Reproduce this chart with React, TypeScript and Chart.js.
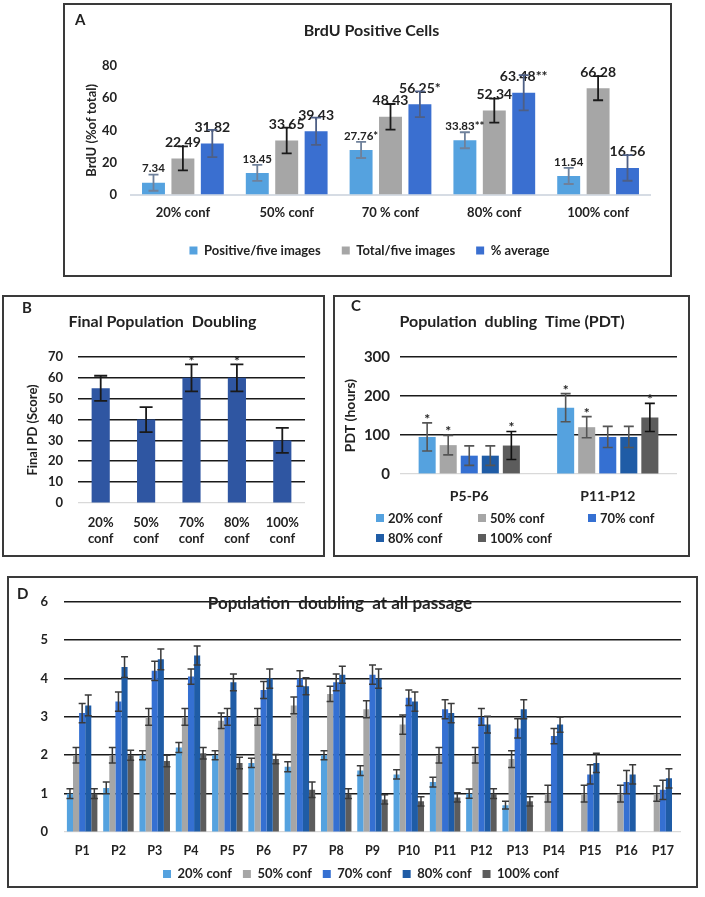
import React, { useEffect, useRef } from 'react';
import { Chart, registerables } from 'chart.js';

Chart.register(...registerables);

const FONT = 'Lato, "Open Sans", "DejaVu Sans", sans-serif';
const TEXT = '#222222';
Chart.defaults.font.family = FONT;
Chart.defaults.color = TEXT;

// ---------------- Panel A : BrdU positive cells ----------------
const brduCategories = ['20% conf', '50% conf', '70 % conf', '80% conf', '100% conf'];
const brduSeriesNames = ['Positive/five images', 'Total/five images', '% average'];
const brduPositive = [7.34, 13.45, 27.76, 33.83, 11.54];
const brduTotal = [22.49, 33.65, 48.43, 52.34, 66.28];
const brduAverage = [31.82, 39.43, 56.25, 63.48, 16.56];
const brduPositiveErr = [5, 5, 5, 5, 5];
const brduTotalErr = [7.5, 8, 8, 7.5, 7.5];
const brduAverageErr = [8.5, 8.5, 8, 11, 8];
const brduPositiveText = ['7.34', '13.45', '27.76*', '33.83**', '11.54'];
const brduTotalText = ['22.49', '33.65', '48.43', '52.34', '66.28'];
const brduAverageText = ['31.82', '39.43', '56.25*', '63.48**', '16.56'];
const brduTicks = [0, 20, 40, 60, 80];

// ---------------- Panel B : Final population doubling ----------------
const pdCategories = [['20%', 'conf'], ['50%', 'conf'], ['70%', 'conf'], ['80%', 'conf'], ['100%', 'conf']];
const pdValues = [55, 40, 60, 60, 30];
const pdErrors = [6, 6, 6.5, 6.5, 6];
const pdStars = ['', '', '*', '*', ''];
const pdTicks = [0, 10, 20, 30, 40, 50, 60, 70];

// ---------------- Panel C : Population doubling time ----------------
const confNames = ['20% conf', '50% conf', '70% conf', '80% conf', '100% conf'];
const pdtCategories = ['P5-P6', 'P11-P12'];
const pdt20 = [95, 170];
const pdt50 = [74, 120];
const pdt70 = [47, 95];
const pdt80 = [47, 95];
const pdt100 = [73, 145];
const pdt20Err = [36, 36];
const pdt50Err = [25, 27];
const pdt70Err = [25, 27];
const pdt80Err = [25, 27];
const pdt100Err = [36, 36];
const pdt20Stars = ['*', '*'];
const pdt50Stars = ['*', '*'];
const pdt70Stars = ['', ''];
const pdt80Stars = ['', ''];
const pdt100Stars = ['*', '*'];
const pdtTicks = [0, 100, 200, 300];

// ---------------- Panel D : Population doubling at all passage ----------------
const passages = ['P1', 'P2', 'P3', 'P4', 'P5', 'P6', 'P7', 'P8', 'P9', 'P10', 'P11', 'P12', 'P13', 'P14', 'P15', 'P16', 'P17'];
const pd20 = [1.0, 1.15, 2.0, 2.2, 2.0, 1.8, 1.7, 2.0, 1.6, 1.5, 1.3, 1.0, 0.7, null, null, null, null];
const pd50 = [2.0, 2.0, 3.0, 3.0, 2.9, 3.0, 3.3, 3.6, 3.2, 2.8, 2.0, 2.0, 1.9, 1.0, 1.0, 1.0, 1.0];
const pd70 = [3.1, 3.4, 4.2, 4.05, 3.0, 3.7, 4.0, 3.9, 4.1, 3.5, 3.2, 3.0, 2.7, 2.5, 1.5, 1.3, 1.1];
const pd80 = [3.3, 4.3, 4.5, 4.6, 3.9, 4.0, 3.8, 4.1, 4.0, 3.4, 3.1, 2.8, 3.2, 2.8, 1.8, 1.5, 1.4];
const pd100 = [1.0, 2.0, 1.85, 2.05, 1.8, 1.9, 1.1, 1.0, 0.85, 0.8, 0.9, 1.0, 0.8, null, null, null, null];
const pd20Err = [0.13, 0.15, 0.12, 0.13, 0.12, 0.12, 0.13, 0.12, 0.13, 0.12, 0.13, 0.12, 0.1, null, null, null, null];
const pd50Err = [0.2, 0.2, 0.22, 0.22, 0.2, 0.22, 0.22, 0.2, 0.22, 0.25, 0.2, 0.2, 0.22, 0.22, 0.22, 0.22, 0.2];
const pd70Err = [0.25, 0.25, 0.25, 0.2, 0.22, 0.22, 0.2, 0.22, 0.25, 0.2, 0.25, 0.22, 0.25, 0.2, 0.25, 0.3, 0.25];
const pd80Err = [0.27, 0.27, 0.27, 0.25, 0.22, 0.25, 0.22, 0.22, 0.25, 0.25, 0.25, 0.22, 0.25, 0.2, 0.25, 0.25, 0.25];
const pd100Err = [0.13, 0.13, 0.15, 0.15, 0.15, 0.12, 0.2, 0.13, 0.12, 0.12, 0.12, 0.13, 0.12, null, null, null, null];
const pdAllTicks = [0, 1, 2, 3, 4, 5, 6];

// ---------------- colours ----------------
const COL20 = '#55A2DF';
const COL50 = '#A6A6A6';
const COL70 = '#3570D2';
const COL80 = '#1F5CA6';
const COL100 = '#5C5C5C';
const COLB = '#2F56A2';

const annotatePlugin = {
  id: 'annotate',
  afterLayout(chart: any, _args: any, opts: any) {
    const dxT = (opts && opts.titleShift) || 0;
    const dxL = (opts && opts.legendShift) || 0;
    if (chart.titleBlock && dxT) {
      chart.titleBlock.left += dxT;
      chart.titleBlock.right += dxT;
    }
    if (chart.legend && dxL) {
      chart.legend.left += dxL;
      chart.legend.right += dxL;
    }
  },
  afterDatasetsDraw(chart: any, _args: any, opts: any) {
    const ctx = chart.ctx;
    const yScale = chart.scales.y;
    const cap = (opts && opts.capWidth) || 8;
    const lw = (opts && opts.lineWidth) || 1.5;
    // value labels first
    chart.data.datasets.forEach((ds: any, di: number) => {
      const meta = chart.getDatasetMeta(di);
      if (!ds.valueText) return;
      meta.data.forEach((bar: any, i: number) => {
        const v = ds.data[i];
        if (v == null || !ds.valueText[i]) return;
        ctx.save();
        ctx.font = `bold ${ds.valueFontSize || 13}px ${FONT}`;
        ctx.fillStyle = TEXT;
        ctx.textAlign = 'center';
        ctx.textBaseline = 'middle';
        ctx.fillText(ds.valueText[i], bar.x, yScale.getPixelForValue(v) - (ds.valueOffset || 15));
        ctx.restore();
      });
    });
    // error bars + stars
    chart.data.datasets.forEach((ds: any, di: number) => {
      const meta = chart.getDatasetMeta(di);
      if (!ds.errors) return;
      meta.data.forEach((bar: any, i: number) => {
        const v = ds.data[i];
        const e = ds.errors[i];
        if (v == null || e == null) return;
        const x = bar.x;
        const yT = yScale.getPixelForValue(v + e);
        const yB = yScale.getPixelForValue(Math.max(0, v - e));
        ctx.save();
        ctx.strokeStyle = ds.errorColor || '#222';
        ctx.lineWidth = lw;
        ctx.beginPath();
        ctx.moveTo(x, yT);
        ctx.lineTo(x, yB);
        ctx.moveTo(x - cap / 2, yT);
        ctx.lineTo(x + cap / 2, yT);
        ctx.moveTo(x - cap / 2, yB);
        ctx.lineTo(x + cap / 2, yB);
        ctx.stroke();
        if (ds.stars && ds.stars[i]) {
          ctx.font = `bold ${opts.starSize || 15}px ${FONT}`;
          ctx.fillStyle = TEXT;
          ctx.textAlign = 'center';
          ctx.textBaseline = 'alphabetic';
          ctx.fillText(ds.stars[i], x, yT + (opts.starOffset || 2));
        }
        ctx.restore();
      });
    });
  },
};

const boldFont = (size: number) => ({ family: FONT, size, weight: 'bold' as const });
const gridColor = (c: any) => (c.tick && c.tick.value === 0 ? '#d9d9d9' : '#1a1a1a');
const gridWidth = (c: any) => (c.tick && c.tick.value === 0 ? 1.2 : 1.6);
const fixedTicks = (list: number[]) => (s: any) => {
  s.ticks = list.map((v) => ({ value: v }));
};

function useChart(makeConfig: () => any) {
  const ref = useRef<HTMLCanvasElement | null>(null);
  useEffect(() => {
    if (!ref.current) return;
    const chart = new Chart(ref.current, makeConfig());
    return () => chart.destroy();
  }, []);
  return ref;
}

function configA() {
  return {
    type: 'bar',
    plugins: [annotatePlugin],
    data: {
      labels: brduCategories,
      datasets: [
        { label: brduSeriesNames[0], data: brduPositive, backgroundColor: COL20, errors: brduPositiveErr, errorColor: '#6f819b', valueText: brduPositiveText, valueFontSize: 11.5, valueOffset: 14 },
        { label: brduSeriesNames[1], data: brduTotal, backgroundColor: COL50, errors: brduTotalErr, errorColor: '#1a1a1a', valueText: brduTotalText, valueFontSize: 14, valueOffset: 16 },
        { label: brduSeriesNames[2], data: brduAverage, backgroundColor: '#3A6FD0', errors: brduAverageErr, errorColor: '#4e5f85', valueText: brduAverageText, valueFontSize: 14, valueOffset: 16 },
      ],
    },
    options: {
      responsive: false,
      animation: false,
      events: [],
      datasets: { bar: { categoryPercentage: 0.85, barPercentage: 0.78 } },
      layout: { padding: { left: 8, right: 20, top: 6, bottom: 8 } },
      plugins: {
        title: { display: true, text: 'BrdU Positive Cells', font: boldFont(16), color: TEXT, padding: { top: 10, bottom: 26 } },
        legend: { position: 'bottom', labels: { boxWidth: 8, boxHeight: 8, padding: 21, font: boldFont(13), color: TEXT } },
        tooltip: { enabled: false },
        annotate: { titleShift: 10, legendShift: 8, capWidth: 10, lineWidth: 1.8 },
      },
      scales: {
        x: {
          grid: { display: false, drawTicks: false },
          border: { display: true, color: '#d6dce4', width: 2 },
          ticks: { font: boldFont(13), color: TEXT, padding: 11 },
          afterFit: (s: any) => { s.height = 28.5; },
        },
        y: {
          min: 0,
          max: 80,
          afterBuildTicks: fixedTicks(brduTicks),
          grid: { display: false, drawTicks: false },
          border: { display: false },
          ticks: { font: boldFont(13), color: TEXT, padding: 14 },
          title: { display: true, text: 'BrdU (%of total)', font: boldFont(13), color: TEXT, padding: { top: 11, bottom: 0 } },
          afterFit: (s: any) => { s.width = 58; },
        },
      },
    },
  };
}

function configB() {
  return {
    type: 'bar',
    plugins: [annotatePlugin],
    data: {
      labels: pdCategories,
      datasets: [
        { label: 'Final PD', data: pdValues, backgroundColor: COLB, errors: pdErrors, errorColor: '#1a1a1a', stars: pdStars },
      ],
    },
    options: {
      responsive: false,
      animation: false,
      events: [],
      datasets: { bar: { categoryPercentage: 0.8, barPercentage: 0.5 } },
      layout: { padding: { left: 6, right: 18, top: 6, bottom: 8 } },
      plugins: {
        title: { display: true, text: 'Final Population  Doubling', font: boldFont(16), color: TEXT, padding: { top: 9.4, bottom: 25.4 } },
        legend: { display: false },
        tooltip: { enabled: false },
        annotate: { titleShift: 5, capWidth: 13, lineWidth: 1.8, starSize: 14, starOffset: 2 },
      },
      scales: {
        x: {
          grid: { display: false, drawTicks: false },
          border: { display: false },
          ticks: { font: boldFont(13), color: TEXT, padding: 12 },
          afterFit: (s: any) => { s.height = 44; },
        },
        y: {
          min: 0,
          max: 70,
          afterBuildTicks: fixedTicks(pdTicks),
          grid: { color: gridColor, lineWidth: gridWidth, drawTicks: false },
          border: { display: false },
          ticks: { font: boldFont(13), color: TEXT, padding: 15 },
          title: { display: true, text: 'Final PD (Score)', font: boldFont(13), color: TEXT, padding: { top: 15, bottom: 0 } },
          afterFit: (s: any) => { s.width = 68; },
        },
      },
    },
  };
}

function configC() {
  return {
    type: 'bar',
    plugins: [annotatePlugin],
    data: {
      labels: pdtCategories,
      datasets: [
        { label: confNames[0], data: pdt20, backgroundColor: COL20, errors: pdt20Err, errorColor: '#555', stars: pdt20Stars },
        { label: confNames[1], data: pdt50, backgroundColor: COL50, errors: pdt50Err, errorColor: '#555', stars: pdt50Stars },
        { label: confNames[2], data: pdt70, backgroundColor: COL70, errors: pdt70Err, errorColor: '#555', stars: pdt70Stars },
        { label: confNames[3], data: pdt80, backgroundColor: COL80, errors: pdt80Err, errorColor: '#555', stars: pdt80Stars },
        { label: confNames[4], data: pdt100, backgroundColor: COL100, errors: pdt100Err, errorColor: '#111', stars: pdt100Stars },
      ],
    },
    options: {
      responsive: false,
      animation: false,
      events: [],
      datasets: { bar: { categoryPercentage: 0.76, barPercentage: 0.81 } },
      layout: { padding: { left: 4, right: 11, top: 6, bottom: 46 } },
      plugins: {
        title: { display: true, text: 'Population  dubling  Time (PDT)', font: boldFont(16), color: TEXT, padding: { top: 9.4, bottom: 25.4 } },
        legend: { display: false },
        tooltip: { enabled: false },
        annotate: { titleShift: 4, capWidth: 10, lineWidth: 1.6, starSize: 14, starOffset: 1 },
      },
      scales: {
        x: {
          grid: { display: false, drawTicks: false },
          border: { display: false },
          ticks: { font: boldFont(14), color: TEXT, padding: 14.5 },
          afterFit: (s: any) => { s.height = 35; },
        },
        y: {
          min: 0,
          max: 300,
          afterBuildTicks: fixedTicks(pdtTicks),
          grid: { color: gridColor, lineWidth: gridWidth, drawTicks: false },
          border: { display: false },
          ticks: { font: boldFont(15), color: TEXT, padding: 10 },
          title: { display: true, text: 'PDT (hours)', font: boldFont(14), color: TEXT, padding: { top: 2.6, bottom: 0 } },
          afterFit: (s: any) => { s.width = 61; },
        },
      },
    },
  };
}

function configD() {
  return {
    type: 'bar',
    plugins: [annotatePlugin],
    data: {
      labels: passages,
      datasets: [
        { label: confNames[0], data: pd20, backgroundColor: COL20, errors: pd20Err, errorColor: '#3a3a3a' },
        { label: confNames[1], data: pd50, backgroundColor: COL50, errors: pd50Err, errorColor: '#3a3a3a' },
        { label: confNames[2], data: pd70, backgroundColor: COL70, errors: pd70Err, errorColor: '#3a3a3a' },
        { label: confNames[3], data: pd80, backgroundColor: COL80, errors: pd80Err, errorColor: '#3a3a3a' },
        { label: confNames[4], data: pd100, backgroundColor: COL100, errors: pd100Err, errorColor: '#3a3a3a' },
      ],
    },
    options: {
      responsive: false,
      animation: false,
      events: [],
      datasets: { bar: { categoryPercentage: 0.84, barPercentage: 1.0 } },
      layout: { padding: { left: 4, right: 15, top: 14, bottom: 0.5 } },
      plugins: {
        title: { display: false },
        legend: { position: 'bottom', labels: { boxWidth: 8, boxHeight: 8, padding: 11, font: boldFont(13), color: TEXT } },
        tooltip: { enabled: false },
        annotate: { legendShift: 14, capWidth: 7, lineWidth: 1.5 },
      },
      scales: {
        x: {
          grid: { display: false, drawTicks: false },
          border: { display: false },
          ticks: { font: boldFont(12.5), color: TEXT, padding: 11 },
          afterFit: (s: any) => { s.height = 24.5; },
        },
        y: {
          min: 0,
          max: 6,
          afterBuildTicks: fixedTicks(pdAllTicks),
          grid: { color: gridColor, lineWidth: gridWidth, drawTicks: false },
          border: { display: false },
          ticks: { font: boldFont(13), color: TEXT, padding: 16 },
          afterFit: (s: any) => { s.width = 51; },
        },
      },
    },
  };
}

const boxStyle = (left: number, top: number, width: number, height: number): React.CSSProperties => ({
  position: 'absolute',
  left,
  top,
  width,
  height,
  border: '2px solid #3a3a3a',
  boxSizing: 'border-box',
});

const canvasStyle = (w: number, h: number): React.CSSProperties => ({
  position: 'absolute',
  left: 0,
  top: 0,
  width: w,
  height: h,
});

const letterStyle = (left: number, top: number): React.CSSProperties => ({
  position: 'absolute',
  left,
  top,
  font: `bold 15px ${FONT}`,
  color: TEXT,
  lineHeight: '18px',
});

const legendColumnsC = [376, 478, 588];
const legendRowsC = [510, 530];
const legendColorsC = [COL20, COL50, COL70, COL80, COL100];

export default function App() {
  const refA = useChart(configA);
  const refB = useChart(configB);
  const refC = useChart(configC);
  const refD = useChart(configD);

  return (
    <div style={{ position: 'fixed', left: 0, top: 0, width: 705, height: 897, background: '#ffffff', fontFamily: FONT, overflow: 'hidden' }}>
      <div style={boxStyle(63, 3, 609, 274)}>
        <canvas ref={refA} width={605} height={270} style={canvasStyle(605, 270)} />
      </div>
      <div style={letterStyle(75, 10)}>A</div>

      <div style={boxStyle(2, 295, 323, 262)}>
        <canvas ref={refB} width={319} height={258} style={canvasStyle(319, 258)} />
      </div>
      <div style={letterStyle(22, 298)}>B</div>

      <div style={boxStyle(333, 295, 357, 262)}>
        <canvas ref={refC} width={353} height={258} style={canvasStyle(353, 258)} />
      </div>
      <div style={letterStyle(351, 296)}>C</div>
      {confNames.map((name, i) => (
        <div
          key={name}
          style={{
            position: 'absolute',
            left: legendColumnsC[i % 3],
            top: legendRowsC[Math.floor(i / 3)],
            height: 16,
            display: 'flex',
            alignItems: 'center',
            font: `bold 13px ${FONT}`,
            color: TEXT,
            whiteSpace: 'nowrap',
          }}
        >
          <span style={{ display: 'inline-block', width: 8, height: 8, background: legendColorsC[i], marginRight: 4 }} />
          {name}
        </div>
      ))}

      <div style={boxStyle(7, 576, 691, 312)}>
        <canvas ref={refD} width={687} height={313} style={canvasStyle(687, 313)} />
      </div>
      <div style={letterStyle(17, 584)}>D</div>
      <div
        style={{
          position: 'absolute',
          left: 0,
          top: 592,
          width: 680,
          textAlign: 'center',
          font: `bold 17px ${FONT}`,
          lineHeight: '22px',
          color: TEXT,
          whiteSpace: 'pre',
        }}
      >
        {'Population  doubling  at all passage'}
      </div>
    </div>
  );
}
